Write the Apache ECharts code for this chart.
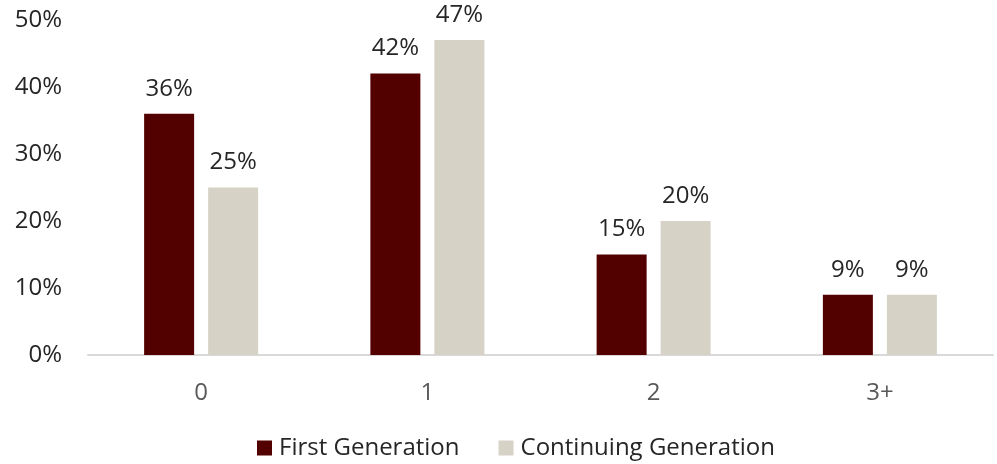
<!DOCTYPE html>
<html>
<head>
<meta charset="utf-8">
<style>
  html, body { margin: 0; padding: 0; background: #fff; }
  #chart { width: 997px; height: 464px; }
</style>
<script src="https://cdn.jsdelivr.net/npm/echarts@6/dist/echarts.min.js"></script>
</head>
<body>
<div id="chart"></div>
<script>
// Share of students by number of items, by generation status
const categories = ['0', '1', '2', '3+'];
const firstGeneration = [36, 42, 15, 9];
const continuingGeneration = [25, 47, 20, 9];
const yTicks = [0, 10, 20, 30, 40, 50];

const FONT = '"Open Sans", "Noto Sans", sans-serif';
const FS = 24;

const chart = echarts.init(document.getElementById('chart'));

const labelStyle = {
  show: true,
  position: 'top',
  distance: 13,
  formatter: p => p.value + '%',
  fontFamily: FONT,
  fontSize: FS,
  color: '#262626'
};

chart.setOption({
  animation: false,
  grid: { left: 88, right: 4, top: 20, bottom: 109, containLabel: false },
  legend: {
    top: 431,
    left: 252,
    itemWidth: 15,
    itemHeight: 15,
    itemGap: 39,
    icon: 'rect',
    textStyle: { fontFamily: FONT, fontSize: FS, color: '#262626', padding: [0, 0, 0, 2] },
    data: ['First Generation', 'Continuing Generation']
  },
  xAxis: {
    type: 'category',
    data: categories,
    axisLine: { lineStyle: { color: '#D9D9D9', width: 2 } },
    axisTick: { show: false },
    axisLabel: { fontFamily: FONT, fontSize: FS, color: '#595959', margin: 26 }
  },
  yAxis: {
    type: 'value',
    min: yTicks[0],
    max: yTicks[yTicks.length - 1],
    interval: 10,
    splitLine: { show: false },
    axisLine: { show: false },
    axisTick: { show: false },
    axisLabel: {
      fontFamily: FONT, fontSize: FS, color: '#262626', margin: 26,
      formatter: v => v + '%'
    }
  },
  series: [
    {
      name: 'First Generation',
      type: 'bar',
      data: firstGeneration,
      barWidth: 50,
      barGap: '28%',
      itemStyle: { color: '#520000' },
      label: labelStyle
    },
    {
      name: 'Continuing Generation',
      type: 'bar',
      data: continuingGeneration,
      barWidth: 50,
      itemStyle: { color: '#D6D3C6' },
      label: labelStyle
    }
  ]
});
</script>
</body>
</html>
